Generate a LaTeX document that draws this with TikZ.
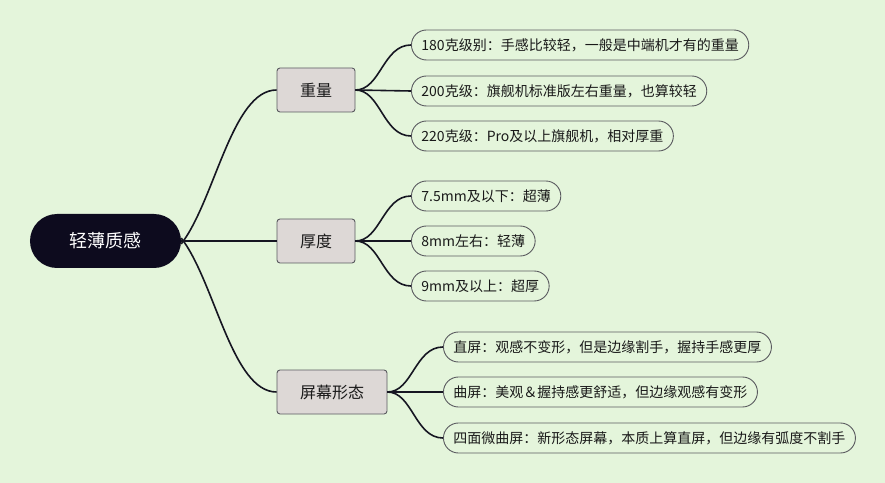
\documentclass[tikz,border=0pt]{standalone}
\usepackage{fontspec}
\setmainfont{Noto Sans CJK SC}
\definecolor{bg}{RGB}{228,245,219}
\definecolor{rootfill}{RGB}{13,11,30}
\definecolor{branchfill}{RGB}{221,216,214}
\definecolor{edgegray}{RGB}{90,90,95}
\definecolor{linec}{RGB}{22,22,34}
\tikzset{
  rootbox/.style={draw=none, fill=rootfill, text=white, rounded corners=27bp,
    minimum width=151bp, minimum height=54bp, font=\fontsize{18bp}{20bp}\selectfont},
  branchbox/.style={draw=edgegray, line width=0.9bp, fill=branchfill, rounded corners=3bp,
    minimum height=44bp, inner xsep=0bp, text=black!90, font=\fontsize{16bp}{18bp}\selectfont},
  leafbox/.style={draw=edgegray, line width=0.9bp, fill=bg, rounded corners=15bp, anchor=west,
    minimum height=30bp, inner xsep=10bp, inner ysep=0bp, text=black!90,
    font=\fontsize{14bp}{16bp}\selectfont},
  conn/.style={draw=linec, line width=1.6bp},
}
\begin{document}
\begin{tikzpicture}[x=1bp,y=-1bp]
\fill[bg] (0,0) rectangle (885,483);
\useasboundingbox (0,0) rectangle (885,483);

\node[rootbox] (root) at (105.5,241) {轻薄质感};
\node[branchbox, minimum width=78bp] (b1) at (316,90) {重量};
\node[branchbox, minimum width=78bp] (b2) at (316,241) {厚度};
\node[branchbox, minimum width=110bp] (b3) at (332,392) {屏幕形态};

\node[leafbox] (l11) at (411,45) {180克级别：手感比较轻，一般是中端机才有的重量};
\node[leafbox] (l12) at (411,91) {200克级：旗舰机标准版左右重量，也算较轻};
\node[leafbox] (l13) at (411,136) {220克级：Pro及以上旗舰机，相对厚重};

\node[leafbox] (l21) at (411,196) {7.5mm及以下：超薄};
\node[leafbox] (l22) at (411,241) {8mm左右：轻薄};
\node[leafbox] (l23) at (411,286) {9mm及以上：超厚};

\node[leafbox] (l31) at (443,347) {直屏：观感不变形，但是边缘割手，握持手感更厚};
\node[leafbox] (l32) at (443,392) {曲屏：美观＆握持感更舒适，但边缘观感有变形};
\node[leafbox] (l33) at (443,438) {四面微曲屏：新形态屏幕，本质上算直屏，但边缘有弧度不割手};

\begin{scope}[on background layer/.style={}]
\draw[conn] ([yshift=-3bp]root.east) .. controls (215,200) and (232,90) .. (b1.west);
\draw[conn] (root.east) -- (b2.west);
\draw[conn] ([yshift=3bp]root.east) .. controls (215,282) and (232,392) .. (b3.west);

\foreach \l in {l11,l13}{
  \draw[conn] (b1.east) .. controls +(25,0) and +(-28,0) .. (\l.west);
}
\draw[conn] (b1.east) -- (l12.west);
\foreach \l in {l21,l23}{
  \draw[conn] (b2.east) .. controls +(25,0) and +(-28,0) .. (\l.west);
}
\draw[conn] (b2.east) -- (l22.west);
\foreach \l in {l31,l33}{
  \draw[conn] (b3.east) .. controls +(25,0) and +(-28,0) .. (\l.west);
}
\draw[conn] (b3.east) -- (l32.west);
\end{scope}
\end{tikzpicture}
\end{document}
